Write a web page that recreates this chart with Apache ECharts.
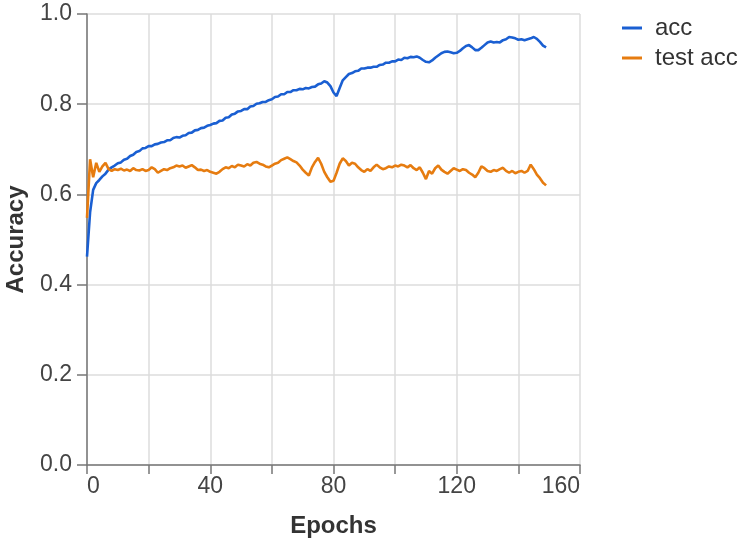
<!DOCTYPE html>
<html>
<head>
<meta charset="utf-8">
<script src="https://cdn.jsdelivr.net/npm/echarts@6/dist/echarts.min.js"></script>
<style>
  html, body { margin: 0; padding: 0; background: #fff; }
  #chart { width: 740px; height: 538px; }
</style>
</head>
<body>
<div id="chart"></div>
<script>
const seriesNames = ["acc", "test acc"];

const acc = [
  0.462, 0.560, 0.610, 0.625, 0.632, 0.640, 0.646, 0.655, 0.660, 0.664,
  0.669, 0.671, 0.677, 0.679, 0.685, 0.688, 0.694, 0.696, 0.702, 0.703,
  0.707, 0.707, 0.711, 0.712, 0.715, 0.716, 0.720, 0.720, 0.725, 0.727,
  0.726, 0.730, 0.731, 0.736, 0.737, 0.742, 0.743, 0.747, 0.748, 0.752,
  0.754, 0.757, 0.758, 0.763, 0.764, 0.770, 0.771, 0.777, 0.779, 0.784,
  0.785, 0.789, 0.789, 0.795, 0.796, 0.801, 0.802, 0.805, 0.805, 0.809,
  0.811, 0.816, 0.817, 0.822, 0.822, 0.827, 0.827, 0.831, 0.831, 0.834,
  0.833, 0.836, 0.835, 0.838, 0.839, 0.844, 0.846, 0.851, 0.848, 0.840,
  0.826, 0.818, 0.836, 0.853, 0.860, 0.867, 0.869, 0.873, 0.874, 0.879,
  0.879, 0.881, 0.881, 0.883, 0.883, 0.887, 0.888, 0.892, 0.892, 0.895,
  0.895, 0.899, 0.898, 0.903, 0.902, 0.905, 0.904, 0.906, 0.903, 0.898,
  0.894, 0.893, 0.897, 0.903, 0.908, 0.913, 0.916, 0.917, 0.915, 0.913,
  0.914, 0.918, 0.924, 0.929, 0.931, 0.926, 0.920, 0.920, 0.925, 0.931,
  0.937, 0.939, 0.937, 0.938, 0.937, 0.942, 0.944, 0.949, 0.948, 0.946,
  0.943, 0.944, 0.942, 0.944, 0.946, 0.949, 0.945, 0.938, 0.930, 0.926
];

const testAcc = [
  0.548, 0.678, 0.638, 0.670, 0.650, 0.662, 0.670, 0.656, 0.652, 0.656,
  0.654, 0.657, 0.653, 0.655, 0.652, 0.658, 0.654, 0.653, 0.656, 0.652,
  0.654, 0.660, 0.656, 0.648, 0.652, 0.656, 0.654, 0.658, 0.660, 0.664,
  0.662, 0.664, 0.659, 0.662, 0.665, 0.660, 0.654, 0.655, 0.652, 0.654,
  0.650, 0.648, 0.646, 0.650, 0.656, 0.660, 0.658, 0.663, 0.660, 0.666,
  0.664, 0.662, 0.667, 0.664, 0.670, 0.672, 0.668, 0.666, 0.662, 0.660,
  0.664, 0.668, 0.670, 0.676, 0.679, 0.682, 0.678, 0.674, 0.671, 0.664,
  0.655, 0.648, 0.642, 0.660, 0.672, 0.681, 0.668, 0.650, 0.638, 0.628,
  0.630, 0.648, 0.668, 0.680, 0.674, 0.664, 0.670, 0.668, 0.660, 0.654,
  0.650, 0.656, 0.652, 0.660, 0.666, 0.660, 0.656, 0.658, 0.662, 0.660,
  0.664, 0.662, 0.666, 0.664, 0.660, 0.665, 0.658, 0.654, 0.660, 0.648,
  0.634, 0.652, 0.646, 0.658, 0.664, 0.655, 0.650, 0.646, 0.652, 0.658,
  0.655, 0.652, 0.656, 0.654, 0.648, 0.644, 0.638, 0.648, 0.662, 0.658,
  0.652, 0.650, 0.654, 0.652, 0.656, 0.659, 0.652, 0.648, 0.652, 0.647,
  0.650, 0.652, 0.648, 0.652, 0.666, 0.656, 0.644, 0.636, 0.626, 0.620
];

// epochs 0..149
const epochs = acc.map((_, i) => i);

const chart = echarts.init(document.getElementById("chart"));

const textColor = "#444";
const font = "Liberation Sans, Arial, sans-serif";

chart.setOption({
  animation: false,
  color: ["#1a5fd2", "#e67c10"],
  textStyle: { fontFamily: font },
  grid: { left: 87, right: 160, top: 14, bottom: 73, outerBoundsMode: "none" },
  legend: {
    orient: "vertical",
    left: 617,
    top: 11,
    itemWidth: 20,
    itemHeight: 3,
    itemGap: 6,
    icon: "rect",
    textStyle: { fontSize: 24, color: "#333", fontFamily: font, padding: [0, 0, 0, 8] },
    data: seriesNames
  },
  xAxis: {
    type: "value",
    min: 0,
    max: 160,
    interval: 20,
    name: "Epochs",
    nameLocation: "middle",
    nameGap: 49,
    nameTextStyle: { fontSize: 24, fontWeight: "bold", color: "#333" },
    axisLine: { lineStyle: { color: "#777", width: 1.5 } },
    axisTick: { length: 9, lineStyle: { color: "#777", width: 1.5 } },
    axisLabel: {
      fontSize: 23,
      color: textColor,
      margin: 10,
      alignMinLabel: "left",
      alignMaxLabel: "right",
      formatter: v => (v % 40 === 0 ? String(v) : "")
    },
    splitLine: { show: true, lineStyle: { color: "#dcdcdc", width: 1.5 } }
  },
  yAxis: {
    type: "value",
    min: 0,
    max: 1,
    interval: 0.2,
    name: "Accuracy",
    nameLocation: "middle",
    nameGap: 59,
    nameTextStyle: { fontSize: 24, fontWeight: "bold", color: "#333" },
    axisLine: { show: true, lineStyle: { color: "#777", width: 1.5 } },
    axisTick: { show: true, length: 10, lineStyle: { color: "#777", width: 1.5 } },
    axisLabel: {
      fontSize: 23,
      color: textColor,
      margin: 15,
      formatter: v => v.toFixed(1)
    },
    splitLine: { show: true, lineStyle: { color: "#dcdcdc", width: 1.5 } }
  },
  series: [
    {
      name: seriesNames[0],
      type: "line",
      data: epochs.map((e, i) => [e, acc[i]]),
      showSymbol: false,
      lineStyle: { width: 2.6 }
    },
    {
      name: seriesNames[1],
      type: "line",
      data: epochs.map((e, i) => [e, testAcc[i]]),
      showSymbol: false,
      lineStyle: { width: 2.6 }
    }
  ]
});
</script>
</body>
</html>
